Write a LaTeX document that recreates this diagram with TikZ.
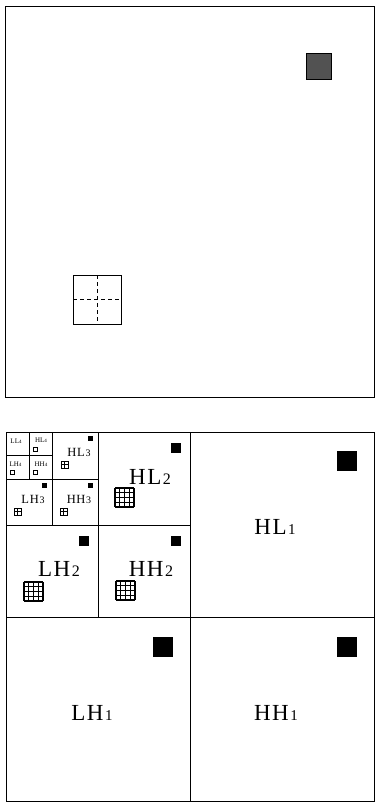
\documentclass[tikz,border=0pt]{standalone}
\usepackage{fontspec}
\setmainfont{Liberation Serif}
\newcommand\sbtxt[4]{{\fontsize{#3}{#3}\selectfont #1}{\fontsize{#4}{#4}\selectfont #2}}
\newcommand\blacksq[3]{\fill (#1-#3,#2) rectangle (#1,#2+#3);}
\newcommand\gridfour[3]{\foreach \k in {0,...,4}{\draw[gridline] (#1+\k*#3/4,#2) -- ++(0,#3); \draw[gridline] (#1,#2+\k*#3/4) -- ++(#3,0);}}
\newcommand\gridtwo[3]{\draw[gridsmall] (#1,#2) rectangle ++(#3,#3); \draw[gridsmall] (#1+#3/2,#2) -- ++(0,#3); \draw[gridsmall] (#1,#2+#3/2) -- ++(#3,0);}
\newcommand\hollow[3]{\draw[line width=0.7pt] (#1,#2) rectangle ++(#3,#3);}
\begin{document}
\begin{tikzpicture}[x=1pt,y=-1pt,line width=0.8pt,
  gridline/.style={line width=1.1pt},
  gridsmall/.style={line width=0.8pt},
  lab/.style={inner sep=0pt,anchor=center}]
\useasboundingbox (0,0) rectangle (375,802);
% ---------- top image ----------
\draw (5,6) rectangle (374,397);
\draw[line width=1pt,fill=black!68] (306,54) rectangle (331,80);
\draw (73,275) rectangle (121,324);
\draw[dash pattern=on 4pt off 3pt] (97,275) -- (97,324);
\draw[dash pattern=on 4pt off 3pt] (73,299) -- (121,299);
% ---------- bottom decomposition ----------
\draw (6,432) rectangle (374,801);
\draw (190,432) -- (190,801);
\draw (6,617) -- (374,617);
\draw (98,432) -- (98,617);
\draw (6,525) -- (190,525);
\draw (52,432) -- (52,525);
\draw (6,479) -- (98,479);
\draw (29,432) -- (29,479);
\draw (6,455) -- (52,455);
% level 1
\blacksq{357}{451}{20}
\blacksq{173}{637}{20}
\blacksq{357}{637}{20}
\node[lab] (hl1) at (275,527) {\sbtxt{H\kern1.5ptL\kern1.5pt}{1}{23}{15}};
\node[lab] (lh1) at (92,713) {\sbtxt{L\kern1.5ptH\kern1.5pt}{1}{23}{15}};
\node[lab] (hh1) at (276,713) {\sbtxt{H\kern1.5ptH\kern1.5pt}{1}{23}{15}};
% level 2
\blacksq{181}{443}{10}
\blacksq{89}{536}{10}
\blacksq{181}{536}{10}
\gridfour{115}{488}{19}
\gridfour{24}{582}{19}
\gridfour{116}{581}{19}
\node[lab] (hl2) at (150,477) {\sbtxt{H\kern1.5ptL\kern1.5pt}{2}{23}{16}};
\node[lab] (lh2) at (59,569) {\sbtxt{L\kern1.5ptH\kern1.5pt}{2}{23}{16}};
\node[lab] (hh2) at (151,569) {\sbtxt{H\kern1.5ptH\kern1.5pt}{2}{23}{16}};
% level 3
\blacksq{93}{436}{5}
\blacksq{47}{483}{5}
\blacksq{93}{483}{5}
\gridtwo{61}{461}{7}
\gridtwo{14}{508}{7}
\gridtwo{60}{508}{7}
\node[lab] (hl3) at (79,452) {\sbtxt{H\kern0.7ptL\kern0.7pt}{3}{12.5}{10}};
\node[lab] (lh3) at (33,499) {\sbtxt{L\kern0.7ptH\kern0.7pt}{3}{12.5}{10}};
\node[lab] (hh3) at (79,499) {\sbtxt{H\kern0.7ptH\kern0.7pt}{3}{12.5}{10}};
% level 4
\hollow{33}{447}{4}
\hollow{10}{470}{4}
\hollow{33}{470}{4}
\node[lab] (ll4) at (16,441) {\sbtxt{LL}{4}{7}{5}};
\node[lab] (hl4) at (41,440) {\sbtxt{HL}{4}{7}{5}};
\node[lab] (lh4) at (15.5,464) {\sbtxt{LH}{4}{7}{5}};
\node[lab] (hh4) at (41,464) {\sbtxt{HH}{4}{7}{5}};
\end{tikzpicture}
\end{document}
